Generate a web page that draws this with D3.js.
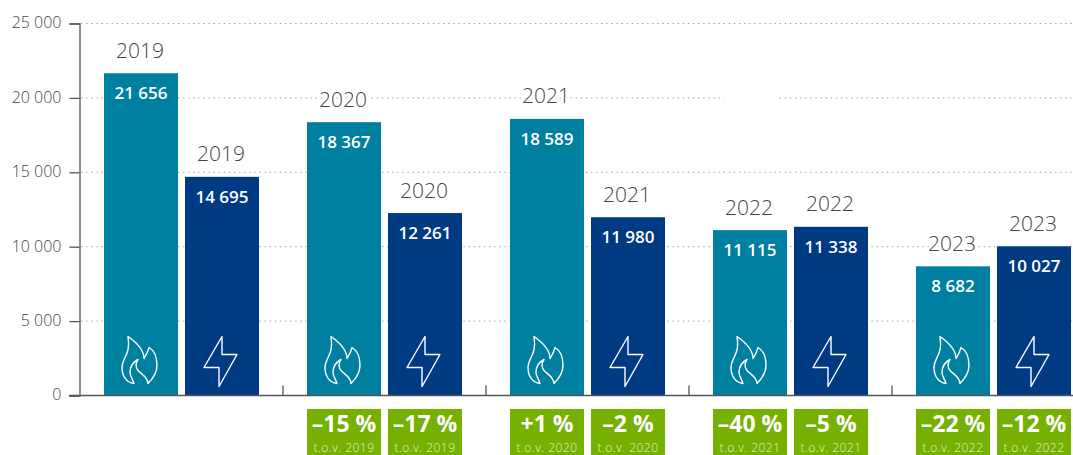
<html>
<head>
<meta charset="utf-8">
<script src="https://d3js.org/d3.v7.min.js"></script>
<style>
body {margin: 0; background: white;}
text {font-family: "Open Sans", "Noto Sans", sans-serif;}
</style>
</head>
<body>
<div id="chart"></div>
<script>
// values
const years = ["2019", "2020", "2021", "2022", "2023"];
const gasValues = [21656, 18367, 18589, 11115, 8682];
const elValues = [14695, 12261, 11980, 11338, 10027];
const gasChange = [null, "\u201315 %", "+1 %", "\u201340 %", "\u201322 %"];
const elChange = [null, "\u201317 %", "\u20132 %", "\u20135 %", "\u201312 %"];
const compareLabels = [null, "t.o.v. 2019", "t.o.v. 2020", "t.o.v. 2021", "t.o.v. 2022"];
const yTicks = [0, 5000, 10000, 15000, 20000, 25000];

const width = 1073, height = 455;
const teal = "#0080a0", navy = "#003a82", green = "#76b000", textCol = "#444";

const svg = d3.select("#chart").append("svg")
  .attr("width", width)
  .attr("height", height)
  .style("display", "block");

const x0 = d3.scaleBand().domain(years).range([104, 1071]).paddingInner(48 / 203).paddingOuter(0);
const x1 = d3.scaleBand().domain(["gas", "el"]).range([0, x0.bandwidth()]).paddingInner(7 / 81).paddingOuter(0);
const y = d3.scaleLinear().domain([0, 25000]).range([395.5, 23.5]);

const fmt = d3.formatLocale({decimal: ",", thousands: " ", grouping: [3], currency: ["", ""]}).format(",d");

// grid
svg.append("g").selectAll("line")
  .data(yTicks.slice(1))
  .enter().append("line")
  .attr("x1", 81)
  .attr("x2", width)
  .attr("y1", d => y(d))
  .attr("y2", d => y(d))
  .attr("stroke", "#a0a0a0")
  .attr("stroke-dasharray", "1.4 3.7");

// the gap in the 20 000 line
svg.append("rect")
  .attr("x", 724).attr("y", y(20000) - 2)
  .attr("width", 53).attr("height", 4)
  .attr("fill", "white");

// axis
const yAxis = d3.axisLeft(y).tickValues(yTicks).tickSize(10).tickPadding(8).tickFormat(fmt);
const axisG = svg.append("g").attr("transform", "translate(79.5,0)").call(yAxis);
axisG.select(".domain").attr("stroke", "#555").attr("stroke-width", 1.3);
axisG.selectAll(".tick line").attr("stroke", "#555").attr("stroke-width", 1.3);
axisG.selectAll(".tick text")
  .attr("fill", textCol)
  .attr("dy", "0.28em")
  .style("font-size", "16px")
  .style("font-weight", 300)
  .style("font-family", '"Open Sans", sans-serif');

const rows = [];
years.forEach((yr, i) => {
  rows.push({year: yr, kind: "gas", value: gasValues[i], change: gasChange[i], cmp: compareLabels[i]});
  rows.push({year: yr, kind: "el", value: elValues[i], change: elChange[i], cmp: compareLabels[i]});
});
const bx = d => x0(d.year) + x1(d.kind);
const cx = d => bx(d) + x1.bandwidth() / 2;

// bars
svg.append("g").selectAll("rect")
  .data(rows)
  .enter().append("rect")
  .attr("x", bx)
  .attr("y", d => y(d.value))
  .attr("width", x1.bandwidth())
  .attr("height", d => y(0) - y(d.value))
  .attr("fill", d => d.kind == "gas" ? teal : navy);

// baseline + separators between the groups
svg.append("line")
  .attr("x1", 69).attr("x2", width)
  .attr("y1", y(0)).attr("y2", y(0))
  .attr("stroke", "#555").attr("stroke-width", 1.3);
svg.append("g").selectAll("line")
  .data(years.slice(1))
  .enter().append("line")
  .attr("x1", d => x0(d) - 24)
  .attr("x2", d => x0(d) - 24)
  .attr("y1", y(0) - 10)
  .attr("y2", y(0))
  .attr("stroke", "#555").attr("stroke-width", 1.3);

// year over the bar, white halo cuts the grid
svg.append("g").selectAll("text")
  .data(rows)
  .enter().append("text")
  .attr("x", d => cx(d) - 1)
  .attr("y", d => y(d.value) - 15.5)
  .attr("text-anchor", "middle")
  .attr("fill", textCol)
  .attr("stroke", "white")
  .attr("stroke-width", 5)
  .attr("paint-order", "stroke")
  .style("font-size", "21px")
  .style("font-weight", 300)
  .text(d => d.year);

// value in the bar
svg.append("g").selectAll("text")
  .data(rows)
  .enter().append("text")
  .attr("x", cx)
  .attr("y", d => y(d.value) + 26)
  .attr("text-anchor", "middle")
  .attr("fill", "white")
  .style("font-size", "17px")
  .style("font-weight", 600)
  .text(d => fmt(d.value));

// icons, drawn from the lower left corner of the bar
const flame = "M30,-12 C22,-13 18,-20 18,-28 C18,-38 27,-40 24,-59 C34,-52 40,-44 40,-37 C42,-40 44,-44 45,-48 C52,-44 53,-36 53,-30 C53,-22 49,-17 44,-12 C44,-18 38,-21 34,-25 C31,-29 32,-33 34,-36 C28,-33 26,-28 26,-23 C26,-19 29,-16 30,-12 Z";
const bolt = "M37,-59 L19,-28 L34,-28 L34,-9 L52,-41 L37,-41 Z";
svg.append("g").selectAll("path")
  .data(rows)
  .enter().append("path")
  .attr("transform", d => `translate(${bx(d)},${y(0)})`)
  .attr("d", d => d.kind == "gas" ? flame : bolt)
  .attr("fill", "none")
  .attr("stroke", "white")
  .attr("stroke-width", 1.4)
  .attr("stroke-linejoin", "round");

// green change boxes
const boxes = svg.append("g").selectAll("g")
  .data(rows.filter(d => d.change))
  .enter().append("g");
boxes.append("rect")
  .attr("x", bx)
  .attr("y", 409)
  .attr("width", x1.bandwidth())
  .attr("height", 46)
  .attr("fill", green);
boxes.append("text")
  .attr("x", cx)
  .attr("y", 432)
  .attr("text-anchor", "middle")
  .attr("fill", "white")
  .style("font-size", "23px")
  .style("font-weight", 700)
  .text(d => d.change);
boxes.append("text")
  .attr("x", cx)
  .attr("y", 451.5)
  .attr("text-anchor", "middle")
  .attr("fill", "#eaf3d0")
  .style("font-size", "12px")
  .style("font-weight", 300)
  .style("letter-spacing", "0.5px")
  .text(d => d.cmp);
</script>
</body>
</html>
